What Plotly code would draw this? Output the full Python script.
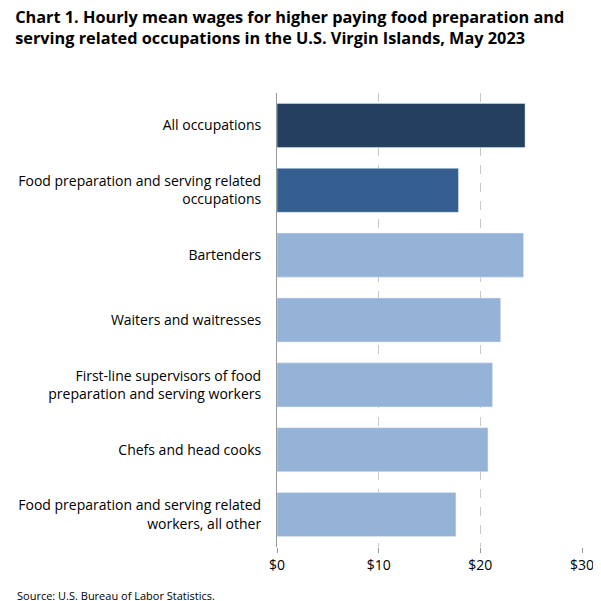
import plotly.graph_objects as go

categories = [
    "All occupations",
    "Food preparation and serving related<br>occupations",
    "Bartenders",
    "Waiters and waitresses",
    "First-line supervisors of food<br>preparation and serving workers",
    "Chefs and head cooks",
    "Food preparation and serving related<br>workers, all other",
]
wages = [24.40, 17.85, 24.25, 22.00, 21.20, 20.75, 17.60]
bar_colors = ["#243f60", "#365f91", "#95b3d7", "#95b3d7", "#95b3d7", "#95b3d7", "#95b3d7"]
tick_vals = [0, 10, 20, 30]
tick_text = ["$0", "$10", "$20", "$30"]

fig = go.Figure(go.Bar(
    x=wages,
    y=categories,
    orientation="h",
    marker=dict(color=bar_colors),
    width=0.68,
    hovertemplate="%{y}: $%{x:.2f}<extra></extra>",
))

fig.update_layout(
    width=601,
    height=601,
    paper_bgcolor="white",
    plot_bgcolor="white",
    font=dict(family="Open Sans, Arial, sans-serif", size=14, color="#000000"),
    title=dict(
        text="<b>Chart 1. Hourly mean wages for higher paying food preparation and<br>serving related occupations in the U.S. Virgin Islands, May 2023</b>",
        x=0.012, xanchor="left", y=0.975, yanchor="top",
        font=dict(size=16.3),
    ),
    margin=dict(l=269, r=27, t=85, b=62),
    showlegend=False,
    bargap=0.32,
)
fig.update_xaxes(
    range=[0, 30], tickvals=tick_vals, ticktext=tick_text,
    showgrid=True, gridcolor="#c8c8c8", griddash="dash", gridwidth=1,
    zeroline=False, ticks="outside", ticklen=5, tickcolor="#999999",
    tickfont=dict(size=14), automargin=False,
)
fig.update_yaxes(
    autorange="reversed", showline=True, linecolor="#999999",
    ticks="", tickfont=dict(size=14), ticklabelstandoff=12, automargin=False,
)
fig.add_annotation(
    text="Source: U.S. Bureau of Labor Statistics.",
    xref="paper", yref="paper", x=-0.86, y=-0.085,
    xanchor="left", yanchor="top", showarrow=False, font=dict(size=11),
)

fig.write_html("out.html")
